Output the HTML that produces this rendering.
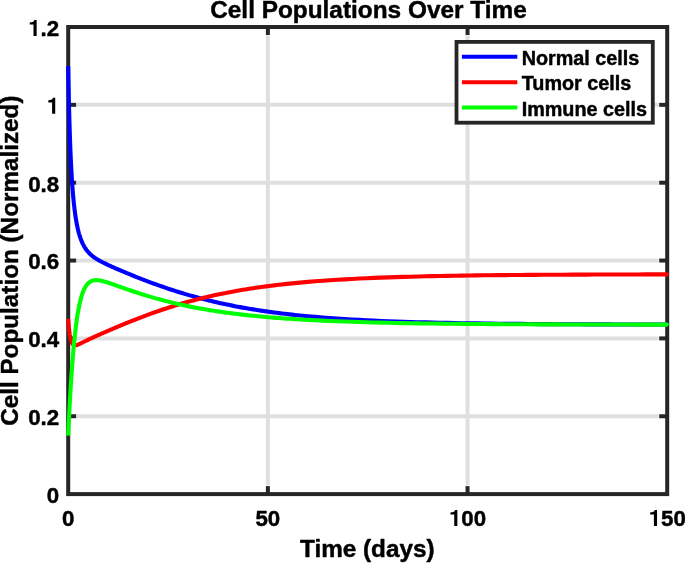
<!DOCTYPE html>
<html><head><meta charset="utf-8"><title>Cell Populations Over Time</title>
<style>html,body{margin:0;padding:0;background:#fff;}body{width:685px;height:563px;overflow:hidden;}svg{display:block;will-change:transform;}text{font-family:"Liberation Sans",sans-serif;font-weight:bold;fill:#000;stroke:#000;stroke-width:0.45px;stroke-linejoin:round;}</style></head><body>
<svg width="685" height="563" viewBox="0 0 685 563">
<rect x="0" y="0" width="685" height="563" fill="#fff"/>
<line x1="267.87" y1="35.6" x2="267.87" y2="485.5" stroke="#dfdfdf" stroke-width="4.0"/>
<line x1="467.53" y1="35.6" x2="467.53" y2="485.5" stroke="#dfdfdf" stroke-width="4.0"/>
<line x1="76.8" y1="416.25" x2="658.6" y2="416.25" stroke="#dfdfdf" stroke-width="4.0"/>
<line x1="76.8" y1="338.40" x2="658.6" y2="338.40" stroke="#dfdfdf" stroke-width="4.0"/>
<line x1="76.8" y1="260.55" x2="658.6" y2="260.55" stroke="#dfdfdf" stroke-width="4.0"/>
<line x1="76.8" y1="182.70" x2="658.6" y2="182.70" stroke="#dfdfdf" stroke-width="4.0"/>
<line x1="76.8" y1="104.85" x2="658.6" y2="104.85" stroke="#dfdfdf" stroke-width="4.0"/>
<line x1="267.87" y1="494.1" x2="267.87" y2="486.1" stroke="#262626" stroke-width="4.0"/>
<line x1="267.87" y1="27.0" x2="267.87" y2="35.0" stroke="#262626" stroke-width="4.0"/>
<line x1="467.53" y1="494.1" x2="467.53" y2="486.1" stroke="#262626" stroke-width="4.0"/>
<line x1="467.53" y1="27.0" x2="467.53" y2="35.0" stroke="#262626" stroke-width="4.0"/>
<line x1="68.2" y1="416.25" x2="76.2" y2="416.25" stroke="#262626" stroke-width="4.0"/>
<line x1="667.2" y1="416.25" x2="659.2" y2="416.25" stroke="#262626" stroke-width="4.0"/>
<line x1="68.2" y1="338.40" x2="76.2" y2="338.40" stroke="#262626" stroke-width="4.0"/>
<line x1="667.2" y1="338.40" x2="659.2" y2="338.40" stroke="#262626" stroke-width="4.0"/>
<line x1="68.2" y1="260.55" x2="76.2" y2="260.55" stroke="#262626" stroke-width="4.0"/>
<line x1="667.2" y1="260.55" x2="659.2" y2="260.55" stroke="#262626" stroke-width="4.0"/>
<line x1="68.2" y1="182.70" x2="76.2" y2="182.70" stroke="#262626" stroke-width="4.0"/>
<line x1="667.2" y1="182.70" x2="659.2" y2="182.70" stroke="#262626" stroke-width="4.0"/>
<line x1="68.2" y1="104.85" x2="76.2" y2="104.85" stroke="#262626" stroke-width="4.0"/>
<line x1="667.2" y1="104.85" x2="659.2" y2="104.85" stroke="#262626" stroke-width="4.0"/>
<rect x="68.2" y="27.0" width="599.0" height="467.1" fill="none" stroke="#262626" stroke-width="4.0"/>
<path d="M68.20,65.92 L68.33,73.61 L68.47,80.83 L68.60,87.61 L68.74,94.00 L68.87,100.02 L69.01,105.71 L69.14,111.09 L69.28,116.18 L69.41,121.01 L69.55,125.60 L69.68,129.96 L69.82,134.11 L69.95,138.06 L70.08,141.82 L70.22,145.41 L70.35,148.84 L70.49,152.12 L70.62,155.26 L70.76,158.26 L70.89,161.14 L71.03,163.90 L71.16,166.54 L71.30,169.08 L71.43,171.53 L71.57,173.87 L71.70,176.13 L71.83,178.30 L71.97,180.40 L72.10,182.41 L72.24,184.36 L72.37,186.23 L72.51,188.04 L72.64,189.79 L72.78,191.48 L72.91,193.11 L73.05,194.69 L73.18,196.21 L73.32,197.69 L73.45,199.12 L73.58,200.50 L73.72,201.85 L73.85,203.15 L73.99,204.41 L74.12,205.63 L74.26,206.82 L74.39,207.97 L74.53,209.08 L74.66,210.17 L74.80,211.22 L74.93,212.25 L75.06,213.25 L75.20,214.22 L75.33,215.16 L75.47,216.07 L75.60,216.97 L75.74,217.84 L75.87,218.68 L76.01,219.51 L76.14,220.31 L76.28,221.09 L76.41,221.85 L76.55,222.60 L76.68,223.32 L76.81,224.03 L76.95,224.72 L77.08,225.39 L77.22,226.05 L77.35,226.69 L77.49,227.32 L77.62,227.93 L77.76,228.53 L77.89,229.11 L78.03,229.68 L78.16,230.24 L78.30,230.78 L78.43,231.32 L78.56,231.84 L78.70,232.35 L78.83,232.85 L78.97,233.33 L79.10,233.81 L79.24,234.28 L79.37,234.74 L79.51,235.19 L79.64,235.62 L79.78,236.05 L79.91,236.48 L80.05,236.89 L80.18,237.29 L80.66,238.68 L81.15,239.98 L81.63,241.18 L82.12,242.31 L82.60,243.37 L83.08,244.36 L83.57,245.30 L84.05,246.18 L84.54,247.00 L85.02,247.79 L85.50,248.53 L85.99,249.23 L86.47,249.89 L86.96,250.53 L87.44,251.13 L87.92,251.70 L88.41,252.25 L88.89,252.77 L89.38,253.27 L89.86,253.75 L90.34,254.21 L90.83,254.65 L91.31,255.08 L91.80,255.49 L92.28,255.89 L92.77,256.27 L93.25,256.64 L93.73,257.00 L94.22,257.35 L94.70,257.69 L95.19,258.02 L95.67,258.34 L96.15,258.66 L96.64,258.97 L97.12,259.27 L97.61,259.56 L98.09,259.85 L98.57,260.13 L99.06,260.41 L99.54,260.68 L100.03,260.95 L100.51,261.21 L100.99,261.47 L101.48,261.73 L101.96,261.98 L102.45,262.23 L102.93,262.48 L103.41,262.72 L103.90,262.97 L104.38,263.20 L104.87,263.44 L105.35,263.68 L105.83,263.91 L106.32,264.14 L106.80,264.37 L107.29,264.60 L107.77,264.83 L108.25,265.05 L108.74,265.28 L109.22,265.50 L109.71,265.72 L110.19,265.94 L110.67,266.16 L111.16,266.38 L111.64,266.59 L112.13,266.81 L112.61,267.03 L113.09,267.24 L113.58,267.46 L114.06,267.67 L114.55,267.88 L115.03,268.09 L115.51,268.30 L116.00,268.51 L116.48,268.73 L116.97,268.93 L117.45,269.14 L117.94,269.35 L118.42,269.56 L118.90,269.77 L119.39,269.97 L119.87,270.18 L120.36,270.39 L120.84,270.59 L121.32,270.80 L121.81,271.00 L122.29,271.21 L122.78,271.41 L123.26,271.61 L123.74,271.82 L124.23,272.02 L124.71,272.22 L125.20,272.42 L125.68,272.62 L126.16,272.82 L126.65,273.03 L127.13,273.23 L127.62,273.43 L128.10,273.62 L130.70,274.69 L133.31,275.75 L135.91,276.79 L138.52,277.82 L141.12,278.84 L143.73,279.85 L146.33,280.85 L148.93,281.83 L151.54,282.80 L154.14,283.75 L156.75,284.69 L159.35,285.62 L161.96,286.54 L164.56,287.43 L167.17,288.32 L169.77,289.19 L172.37,290.04 L174.98,290.88 L177.58,291.71 L180.19,292.52 L182.79,293.31 L185.40,294.09 L188.00,294.86 L190.60,295.61 L193.21,296.34 L195.81,297.06 L198.42,297.77 L201.02,298.45 L203.63,299.13 L206.23,299.79 L208.83,300.44 L211.44,301.07 L214.04,301.69 L216.65,302.29 L219.25,302.88 L221.86,303.46 L224.46,304.02 L227.07,304.57 L229.67,305.11 L232.27,305.63 L234.88,306.14 L237.48,306.64 L240.09,307.13 L242.69,307.61 L245.30,308.07 L247.90,308.52 L250.50,308.96 L253.11,309.39 L255.71,309.81 L258.32,310.22 L260.92,310.62 L263.53,311.01 L266.13,311.38 L268.73,311.75 L271.34,312.11 L273.94,312.46 L276.55,312.80 L279.15,313.13 L281.76,313.45 L284.36,313.77 L286.97,314.07 L289.57,314.37 L292.17,314.66 L294.78,314.94 L297.38,315.21 L299.99,315.48 L302.59,315.74 L305.20,315.99 L307.80,316.24 L315.13,316.89 L322.47,317.50 L329.80,318.06 L337.14,318.58 L344.47,319.06 L351.81,319.50 L359.14,319.90 L366.48,320.28 L373.81,320.63 L381.15,320.95 L388.48,321.24 L395.82,321.52 L403.15,321.77 L410.49,322.00 L417.82,322.21 L425.16,322.41 L432.49,322.59 L439.82,322.76 L447.16,322.91 L454.49,323.05 L461.83,323.18 L469.16,323.30 L476.50,323.41 L483.83,323.52 L491.17,323.61 L498.50,323.70 L505.84,323.78 L513.17,323.85 L520.51,323.92 L527.84,323.98 L535.18,324.04 L542.51,324.09 L549.84,324.14 L557.18,324.18 L564.51,324.22 L571.85,324.26 L579.18,324.29 L586.52,324.33 L593.85,324.36 L601.19,324.38 L608.52,324.41 L615.86,324.43 L623.19,324.45 L630.53,324.47 L637.86,324.49 L645.20,324.51 L652.53,324.52 L659.87,324.54 L667.20,324.55" fill="none" stroke="#0000ff" stroke-width="4.1" stroke-linejoin="round" stroke-linecap="butt"/>
<circle cx="666.75" cy="324.55" r="2.05" fill="#0000ff"/>
<path d="M68.20,318.94 L68.33,320.92 L68.47,322.75 L68.60,324.45 L68.74,326.01 L68.87,327.46 L69.01,328.81 L69.14,330.05 L69.28,331.21 L69.41,332.28 L69.55,333.28 L69.68,334.21 L69.82,335.07 L69.95,335.87 L70.08,336.62 L70.22,337.31 L70.35,337.96 L70.49,338.56 L70.62,339.12 L70.76,339.64 L70.89,340.12 L71.03,340.57 L71.16,340.99 L71.30,341.38 L71.43,341.74 L71.57,342.08 L71.70,342.39 L71.83,342.67 L71.97,342.94 L72.10,343.18 L72.24,343.41 L72.37,343.62 L72.51,343.81 L72.64,343.99 L72.78,344.15 L72.91,344.30 L73.05,344.43 L73.18,344.55 L73.32,344.66 L73.45,344.76 L73.58,344.85 L73.72,344.93 L73.85,345.00 L73.99,345.06 L74.12,345.12 L74.26,345.16 L74.39,345.20 L74.53,345.24 L74.66,345.26 L74.80,345.28 L74.93,345.30 L75.06,345.31 L75.20,345.31 L75.33,345.31 L75.47,345.30 L75.60,345.29 L75.74,345.28 L75.87,345.26 L76.01,345.24 L76.14,345.22 L76.28,345.19 L76.41,345.16 L76.55,345.13 L76.68,345.10 L76.81,345.06 L76.95,345.02 L77.08,344.98 L77.22,344.93 L77.35,344.89 L77.49,344.84 L77.62,344.79 L77.76,344.74 L77.89,344.69 L78.03,344.64 L78.16,344.58 L78.30,344.53 L78.43,344.47 L78.56,344.41 L78.70,344.35 L78.83,344.29 L78.97,344.23 L79.10,344.17 L79.24,344.11 L79.37,344.05 L79.51,343.98 L79.64,343.92 L79.78,343.86 L79.91,343.79 L80.05,343.73 L80.18,343.66 L80.66,343.43 L81.15,343.18 L81.63,342.94 L82.12,342.70 L82.60,342.45 L83.08,342.21 L83.57,341.97 L84.05,341.73 L84.54,341.48 L85.02,341.24 L85.50,341.01 L85.99,340.77 L86.47,340.53 L86.96,340.30 L87.44,340.07 L87.92,339.83 L88.41,339.60 L88.89,339.38 L89.38,339.15 L89.86,338.92 L90.34,338.70 L90.83,338.47 L91.31,338.25 L91.80,338.03 L92.28,337.80 L92.77,337.58 L93.25,337.36 L93.73,337.14 L94.22,336.93 L94.70,336.71 L95.19,336.49 L95.67,336.27 L96.15,336.06 L96.64,335.84 L97.12,335.62 L97.61,335.41 L98.09,335.19 L98.57,334.98 L99.06,334.77 L99.54,334.55 L100.03,334.34 L100.51,334.13 L100.99,333.91 L101.48,333.70 L101.96,333.49 L102.45,333.28 L102.93,333.06 L103.41,332.85 L103.90,332.64 L104.38,332.43 L104.87,332.22 L105.35,332.01 L105.83,331.80 L106.32,331.59 L106.80,331.38 L107.29,331.17 L107.77,330.96 L108.25,330.75 L108.74,330.54 L109.22,330.33 L109.71,330.13 L110.19,329.92 L110.67,329.71 L111.16,329.50 L111.64,329.29 L112.13,329.09 L112.61,328.88 L113.09,328.67 L113.58,328.47 L114.06,328.26 L114.55,328.06 L115.03,327.85 L115.51,327.65 L116.00,327.44 L116.48,327.24 L116.97,327.03 L117.45,326.83 L117.94,326.62 L118.42,326.42 L118.90,326.22 L119.39,326.01 L119.87,325.81 L120.36,325.61 L120.84,325.41 L121.32,325.21 L121.81,325.01 L122.29,324.80 L122.78,324.60 L123.26,324.40 L123.74,324.20 L124.23,324.01 L124.71,323.81 L125.20,323.61 L125.68,323.41 L126.16,323.21 L126.65,323.01 L127.13,322.82 L127.62,322.62 L128.10,322.42 L130.70,321.37 L133.31,320.34 L135.91,319.31 L138.52,318.30 L141.12,317.30 L143.73,316.31 L146.33,315.34 L148.93,314.38 L151.54,313.43 L154.14,312.51 L156.75,311.59 L159.35,310.69 L161.96,309.81 L164.56,308.94 L167.17,308.09 L169.77,307.25 L172.37,306.43 L174.98,305.62 L177.58,304.83 L180.19,304.06 L182.79,303.30 L185.40,302.55 L188.00,301.83 L190.60,301.11 L193.21,300.42 L195.81,299.73 L198.42,299.07 L201.02,298.41 L203.63,297.78 L206.23,297.15 L208.83,296.54 L211.44,295.95 L214.04,295.37 L216.65,294.80 L219.25,294.25 L221.86,293.71 L224.46,293.18 L227.07,292.67 L229.67,292.17 L232.27,291.68 L234.88,291.20 L237.48,290.74 L240.09,290.28 L242.69,289.84 L245.30,289.41 L247.90,288.99 L250.50,288.58 L253.11,288.19 L255.71,287.80 L258.32,287.42 L260.92,287.05 L263.53,286.70 L266.13,286.35 L268.73,286.01 L271.34,285.68 L273.94,285.36 L276.55,285.05 L279.15,284.74 L281.76,284.45 L284.36,284.16 L286.97,283.88 L289.57,283.61 L292.17,283.34 L294.78,283.09 L297.38,282.84 L299.99,282.59 L302.59,282.36 L305.20,282.13 L307.80,281.90 L315.13,281.30 L322.47,280.75 L329.80,280.24 L337.14,279.77 L344.47,279.34 L351.81,278.94 L359.14,278.57 L366.48,278.23 L373.81,277.91 L381.15,277.62 L388.48,277.36 L395.82,277.11 L403.15,276.89 L410.49,276.68 L417.82,276.49 L425.16,276.31 L432.49,276.15 L439.82,275.99 L447.16,275.86 L454.49,275.73 L461.83,275.61 L469.16,275.50 L476.50,275.40 L483.83,275.31 L491.17,275.23 L498.50,275.15 L505.84,275.08 L513.17,275.01 L520.51,274.95 L527.84,274.90 L535.18,274.85 L542.51,274.80 L549.84,274.76 L557.18,274.72 L564.51,274.68 L571.85,274.64 L579.18,274.61 L586.52,274.59 L593.85,274.56 L601.19,274.53 L608.52,274.51 L615.86,274.49 L623.19,274.47 L630.53,274.45 L637.86,274.44 L645.20,274.42 L652.53,274.41 L659.87,274.40 L667.20,274.39" fill="none" stroke="#ff0000" stroke-width="4.1" stroke-linejoin="round" stroke-linecap="butt"/>
<circle cx="666.75" cy="274.39" r="2.05" fill="#ff0000"/>
<path d="M68.20,435.71 L68.33,432.68 L68.47,429.70 L68.60,426.77 L68.74,423.90 L68.87,421.07 L69.01,418.30 L69.14,415.58 L69.28,412.90 L69.41,410.27 L69.55,407.69 L69.68,405.15 L69.82,402.65 L69.95,400.20 L70.08,397.80 L70.22,395.43 L70.35,393.11 L70.49,390.83 L70.62,388.58 L70.76,386.38 L70.89,384.22 L71.03,382.09 L71.16,380.00 L71.30,377.95 L71.43,375.94 L71.57,373.96 L71.70,372.01 L71.83,370.10 L71.97,368.23 L72.10,366.39 L72.24,364.58 L72.37,362.81 L72.51,361.06 L72.64,359.35 L72.78,357.67 L72.91,356.02 L73.05,354.40 L73.18,352.82 L73.32,351.26 L73.45,349.72 L73.58,348.22 L73.72,346.75 L73.85,345.30 L73.99,343.88 L74.12,342.49 L74.26,341.12 L74.39,339.78 L74.53,338.46 L74.66,337.17 L74.80,335.90 L74.93,334.66 L75.06,333.44 L75.20,332.25 L75.33,331.07 L75.47,329.92 L75.60,328.80 L75.74,327.69 L75.87,326.61 L76.01,325.54 L76.14,324.50 L76.28,323.48 L76.41,322.48 L76.55,321.50 L76.68,320.53 L76.81,319.59 L76.95,318.67 L77.08,317.76 L77.22,316.87 L77.35,316.00 L77.49,315.15 L77.62,314.31 L77.76,313.49 L77.89,312.69 L78.03,311.90 L78.16,311.14 L78.30,310.38 L78.43,309.64 L78.56,308.92 L78.70,308.21 L78.83,307.52 L78.97,306.84 L79.10,306.17 L79.24,305.52 L79.37,304.88 L79.51,304.26 L79.64,303.64 L79.78,303.05 L79.91,302.46 L80.05,301.89 L80.18,301.32 L80.66,299.40 L81.15,297.63 L81.63,295.98 L82.12,294.47 L82.60,293.07 L83.08,291.78 L83.57,290.60 L84.05,289.51 L84.54,288.51 L85.02,287.59 L85.50,286.76 L85.99,285.99 L86.47,285.29 L86.96,284.66 L87.44,284.08 L87.92,283.56 L88.41,283.08 L88.89,282.66 L89.38,282.28 L89.86,281.94 L90.34,281.63 L90.83,281.37 L91.31,281.13 L91.80,280.93 L92.28,280.75 L92.77,280.60 L93.25,280.48 L93.73,280.38 L94.22,280.29 L94.70,280.23 L95.19,280.19 L95.67,280.16 L96.15,280.15 L96.64,280.16 L97.12,280.17 L97.61,280.20 L98.09,280.25 L98.57,280.30 L99.06,280.36 L99.54,280.43 L100.03,280.51 L100.51,280.60 L100.99,280.70 L101.48,280.80 L101.96,280.91 L102.45,281.02 L102.93,281.14 L103.41,281.26 L103.90,281.39 L104.38,281.53 L104.87,281.66 L105.35,281.81 L105.83,281.95 L106.32,282.10 L106.80,282.25 L107.29,282.40 L107.77,282.55 L108.25,282.71 L108.74,282.87 L109.22,283.03 L109.71,283.19 L110.19,283.36 L110.67,283.52 L111.16,283.69 L111.64,283.85 L112.13,284.02 L112.61,284.19 L113.09,284.36 L113.58,284.53 L114.06,284.70 L114.55,284.87 L115.03,285.04 L115.51,285.22 L116.00,285.39 L116.48,285.56 L116.97,285.73 L117.45,285.91 L117.94,286.08 L118.42,286.25 L118.90,286.43 L119.39,286.60 L119.87,286.77 L120.36,286.94 L120.84,287.12 L121.32,287.29 L121.81,287.46 L122.29,287.63 L122.78,287.81 L123.26,287.98 L123.74,288.15 L124.23,288.32 L124.71,288.49 L125.20,288.66 L125.68,288.83 L126.16,289.00 L126.65,289.17 L127.13,289.33 L127.62,289.50 L128.10,289.67 L130.70,290.56 L133.31,291.44 L135.91,292.30 L138.52,293.15 L141.12,293.98 L143.73,294.80 L146.33,295.60 L148.93,296.38 L151.54,297.14 L154.14,297.89 L156.75,298.62 L159.35,299.33 L161.96,300.03 L164.56,300.71 L167.17,301.38 L169.77,302.02 L172.37,302.66 L174.98,303.27 L177.58,303.88 L180.19,304.46 L182.79,305.03 L185.40,305.59 L188.00,306.13 L190.60,306.66 L193.21,307.17 L195.81,307.67 L198.42,308.16 L201.02,308.64 L203.63,309.10 L206.23,309.55 L208.83,309.98 L211.44,310.41 L214.04,310.82 L216.65,311.22 L219.25,311.61 L221.86,311.99 L224.46,312.36 L227.07,312.72 L229.67,313.06 L232.27,313.40 L234.88,313.73 L237.48,314.05 L240.09,314.36 L242.69,314.66 L245.30,314.95 L247.90,315.24 L250.50,315.51 L253.11,315.78 L255.71,316.04 L258.32,316.29 L260.92,316.54 L263.53,316.78 L266.13,317.01 L268.73,317.23 L271.34,317.45 L273.94,317.66 L276.55,317.87 L279.15,318.07 L281.76,318.26 L284.36,318.45 L286.97,318.63 L289.57,318.81 L292.17,318.98 L294.78,319.15 L297.38,319.31 L299.99,319.47 L302.59,319.62 L305.20,319.77 L307.80,319.91 L315.13,320.30 L322.47,320.65 L329.80,320.97 L337.14,321.27 L344.47,321.55 L351.81,321.80 L359.14,322.03 L366.48,322.24 L373.81,322.44 L381.15,322.62 L388.48,322.79 L395.82,322.94 L403.15,323.08 L410.49,323.21 L417.82,323.33 L425.16,323.44 L432.49,323.54 L439.82,323.63 L447.16,323.72 L454.49,323.79 L461.83,323.87 L469.16,323.93 L476.50,323.99 L483.83,324.05 L491.17,324.10 L498.50,324.15 L505.84,324.19 L513.17,324.23 L520.51,324.27 L527.84,324.30 L535.18,324.34 L542.51,324.36 L549.84,324.39 L557.18,324.42 L564.51,324.44 L571.85,324.46 L579.18,324.48 L586.52,324.49 L593.85,324.51 L601.19,324.53 L608.52,324.54 L615.86,324.55 L623.19,324.56 L630.53,324.57 L637.86,324.58 L645.20,324.59 L652.53,324.60 L659.87,324.61 L667.20,324.62" fill="none" stroke="#00ff00" stroke-width="4.1" stroke-linejoin="round" stroke-linecap="butt"/>
<circle cx="666.75" cy="324.62" r="2.05" fill="#00ff00"/>
<rect x="456.5" y="41.9" width="196.3" height="80.8" fill="#fff" stroke="#262626" stroke-width="3.8"/>
<line x1="461.9" y1="56.8" x2="517.3" y2="56.8" stroke="#0000ff" stroke-width="4.1"/>
<text transform="translate(521.7,64.90) scale(1,1.0)" font-size="19.8">Normal cells</text>
<line x1="461.9" y1="82.2" x2="517.3" y2="82.2" stroke="#ff0000" stroke-width="4.1"/>
<text transform="translate(521.7,90.30) scale(1,1.0)" font-size="19.8">Tumor cells</text>
<line x1="461.9" y1="107.55" x2="517.3" y2="107.55" stroke="#00ff00" stroke-width="4.1"/>
<text transform="translate(521.7,115.65) scale(1,1.0)" font-size="19.8">Immune cells</text>
<text transform="translate(62.00,525.90) scale(1,1.0)" font-size="22.3">0</text>
<text transform="translate(255.47,525.90) scale(1,1.0)" font-size="22.3">50</text>
<path transform="translate(448.94,525.90) scale(22.3,22.411)" d="M0.378,-0.710 L0.378,0 L0.238,0 L0.238,-0.505 L0.069,-0.505 L0.069,-0.601 C0.165,-0.601 0.258,-0.630 0.276,-0.710 Z" fill="#000"/>
<text transform="translate(461.33,525.90) scale(1,1.0)" font-size="22.3">00</text>
<path transform="translate(648.60,525.90) scale(22.3,22.411)" d="M0.378,-0.710 L0.378,0 L0.238,0 L0.238,-0.505 L0.069,-0.505 L0.069,-0.601 C0.165,-0.601 0.258,-0.630 0.276,-0.710 Z" fill="#000"/>
<text transform="translate(661.00,525.90) scale(1,1.0)" font-size="22.3">50</text>
<text transform="translate(46.80,503.00) scale(1,1.0)" font-size="22.3">0</text>
<text transform="translate(28.20,425.15) scale(1,1.0)" font-size="22.3">0.2</text>
<text transform="translate(28.20,347.30) scale(1,1.0)" font-size="22.3">0.4</text>
<text transform="translate(28.20,269.45) scale(1,1.0)" font-size="22.3">0.6</text>
<text transform="translate(28.20,191.60) scale(1,1.0)" font-size="22.3">0.8</text>
<path transform="translate(46.80,113.75) scale(22.3,22.411)" d="M0.378,-0.710 L0.378,0 L0.238,0 L0.238,-0.505 L0.069,-0.505 L0.069,-0.601 C0.165,-0.601 0.258,-0.630 0.276,-0.710 Z" fill="#000"/>
<path transform="translate(28.20,35.90) scale(22.3,22.411)" d="M0.378,-0.710 L0.378,0 L0.238,0 L0.238,-0.505 L0.069,-0.505 L0.069,-0.601 C0.165,-0.601 0.258,-0.630 0.276,-0.710 Z" fill="#000"/>
<text transform="translate(40.60,35.90) scale(1,1.0)" font-size="22.3">.2</text>
<text transform="translate(367.3,556.9) scale(1,1.0)" font-size="24.3" text-anchor="middle">Time (days)</text>
<text transform="translate(368.45,18.2) scale(1,1.0)" font-size="24.38" text-anchor="middle">Cell Populations Over Time</text>
<text transform="translate(17.9,260.65) rotate(-90) scale(1,1.0)" font-size="24.28" text-anchor="middle">Cell Population (Normalized)</text>
</svg></body></html>
